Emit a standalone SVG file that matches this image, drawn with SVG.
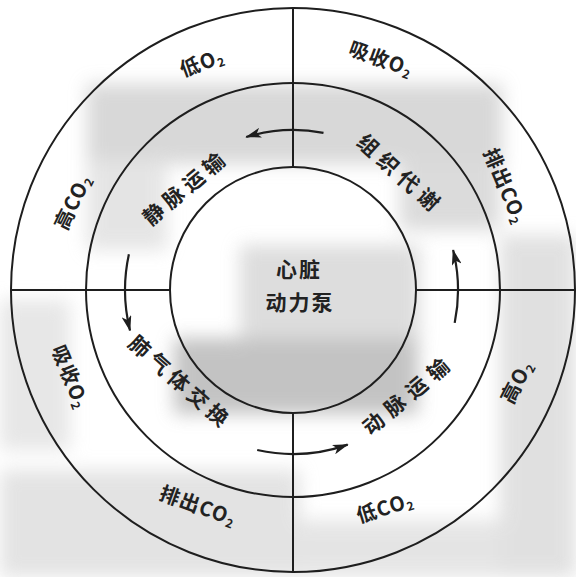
<svg xmlns="http://www.w3.org/2000/svg" width="576" height="577" viewBox="0 0 576 577">
<style>
  .ln { fill: none; stroke: #1e1e1e; stroke-width: 2; }
  .arw { fill: none; stroke: #1e1e1e; stroke-width: 2.2; }
  .mid { font-family: "Noto Sans CJK SC", "Noto Sans", sans-serif; font-size: 21px; font-weight: 700; fill: #222; text-anchor: middle; }
  .out { font-family: "Noto Sans CJK SC", "Noto Sans", sans-serif; font-size: 20px; font-weight: 700; fill: #222; text-anchor: middle; letter-spacing: 1px; }
  .ctr { font-family: "Noto Sans CJK SC", "Noto Sans", sans-serif; font-size: 21px; font-weight: 700; fill: #222; text-anchor: middle; letter-spacing: 2px; }
  .sub { font-size: 12px; }
</style>
<defs>
  <marker id="ah" viewBox="0 0 16 10" refX="15" refY="5" markerWidth="16" markerHeight="10" markerUnits="userSpaceOnUse" orient="auto">
    <path d="M0,0 L16,5 L0,10 L4,5 Z" fill="#1e1e1e"/>
  </marker>
  <filter id="blur" x="-30%" y="-30%" width="160%" height="160%">
    <feGaussianBlur stdDeviation="9"/>
  </filter>
</defs>
<rect width="576" height="577" fill="#ffffff"/>
<g id="scan-shading" filter="url(#blur)" opacity="0.7">
  <rect x="87" y="84" width="415" height="80" fill="#c8c8c8"/>
  <rect x="87" y="160" width="80" height="90" fill="#dadada"/>
  <rect x="400" y="160" width="100" height="70" fill="#cccccc"/>
  <rect x="240" y="245" width="180" height="95" fill="#cfcfcf"/>
  <rect x="174" y="338" width="244" height="76" fill="#aaaaaa"/>
  <rect x="500" y="235" width="76" height="342" fill="#d4d4d4"/>
  <rect x="0" y="300" width="70" height="150" fill="#dddddd"/>
  <rect x="0" y="470" width="300" height="107" fill="#d8d8d8"/>
  <rect x="300" y="520" width="200" height="57" fill="#dadada"/>
</g>
<g id="rings">
  <circle class="ln" cx="293" cy="290" r="282"/>
  <circle class="ln" cx="293" cy="290" r="207"/>
  <circle class="ln" cx="293" cy="290" r="123"/>
  <line class="ln" x1="293" y1="8" x2="293" y2="167"/>
  <line class="ln" x1="293" y1="413" x2="293" y2="572"/>
  <line class="ln" x1="11" y1="290" x2="170" y2="290"/>
  <line class="ln" x1="416" y1="290" x2="575" y2="290"/>
</g>
<g id="connectors">
  <path class="arw" d="M323.5,132.9 A160,160 0 0 0 246.2,137.0" marker-end="url(#ah)"/>
  <path class="arw" d="M128.9,254.2 A168,168 0 0 0 130.0,330.6" marker-end="url(#ah)"/>
  <path class="arw" d="M257.2,450.0 A164,164 0 0 0 347.7,444.6" marker-end="url(#ah)"/>
  <path class="arw" d="M454.7,322.9 A165,165 0 0 0 453.1,250.1" marker-end="url(#ah)"/>
</g>
<g id="heart">
  <text class="ctr" x="299" y="277">心脏</text>
  <text class="ctr" x="300" y="310">动力泵</text>
</g>
<g id="venous">
  <text class="mid" transform="translate(186,188) rotate(-40)" y="7" letter-spacing="5">静脉运输</text>
</g>
<g id="tissue">
  <text class="mid" transform="translate(400,175) rotate(42)" y="7" letter-spacing="6">组织代谢</text>
</g>
<g id="lung">
  <text class="mid" transform="translate(180,383) rotate(41.5)" y="7" letter-spacing="5">肺气体交换</text>
</g>
<g id="arterial">
  <text class="mid" transform="translate(409,395) rotate(-40)" y="7" letter-spacing="7">动脉运输</text>
</g>
<g id="outer-labels">
  <text class="out" transform="translate(202,63) rotate(-20)" y="7">低O<tspan class="sub" dy="3">2</tspan></text>
  <text class="out" transform="translate(381,59) rotate(20)" y="7">吸收O<tspan class="sub" dy="3">2</tspan></text>
  <text class="out" transform="translate(505,186) rotate(67)" y="7">排出CO<tspan class="sub" dy="3">2</tspan></text>
  <text class="out" transform="translate(73,202) rotate(-64)" y="7">高CO<tspan class="sub" dy="3">2</tspan></text>
  <text class="out" transform="translate(70,377) rotate(68)" y="7">吸收O<tspan class="sub" dy="3">2</tspan></text>
  <text class="out" transform="translate(198,506) rotate(20)" y="7">排出CO<tspan class="sub" dy="3">2</tspan></text>
  <text class="out" transform="translate(385,508) rotate(-17)" y="7">低CO<tspan class="sub" dy="3">2</tspan></text>
  <text class="out" transform="translate(517,382) rotate(-62)" y="7">高O<tspan class="sub" dy="3">2</tspan></text>
</g>
</svg>
